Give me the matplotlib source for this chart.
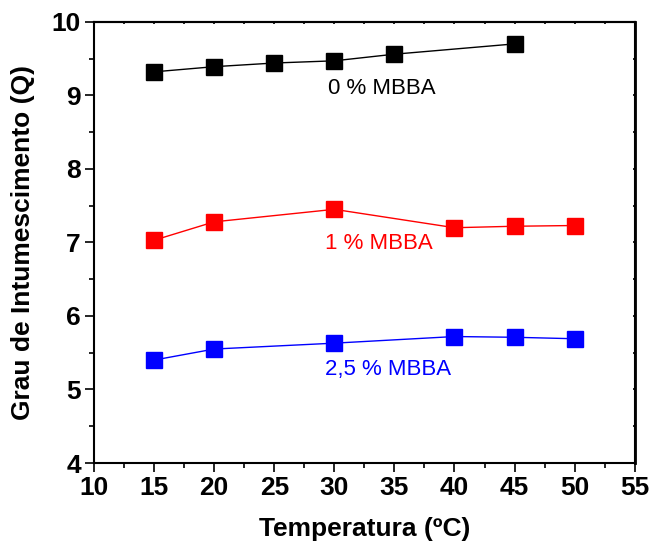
import matplotlib
matplotlib.use('Agg')
import matplotlib.pyplot as plt
from matplotlib.ticker import MultipleLocator

# Data
temp_0 = [15, 20, 25, 30, 35, 45]
q_0 = [9.32, 9.39, 9.44, 9.47, 9.56, 9.70]

temp_1 = [15, 20, 30, 40, 45, 50]
q_1 = [7.03, 7.28, 7.45, 7.20, 7.22, 7.23]

temp_25 = [15, 20, 30, 40, 45, 50]
q_25 = [5.40, 5.55, 5.63, 5.72, 5.71, 5.69]

x_ticks = [10, 15, 20, 25, 30, 35, 40, 45, 50, 55]
y_ticks = [4, 5, 6, 7, 8, 9, 10]

plt.rcParams['font.family'] = ['Liberation Sans', 'DejaVu Sans']

fig = plt.figure(figsize=(6.53, 5.46), dpi=100)
ax = fig.add_axes([0.144, 0.152, 0.828, 0.808])

ax.plot(temp_0, q_0, color='black', marker='s', markersize=11.5, linewidth=1)
ax.plot(temp_1, q_1, color='red', marker='s', markersize=11.5, linewidth=1)
ax.plot(temp_25, q_25, color='blue', marker='s', markersize=11.5, linewidth=1)

ax.text(29.5, 9.10, '0 % MBBA', color='black', fontsize=16, va='center')
ax.text(29.2, 6.99, '1 % MBBA', color='red', fontsize=16, va='center')
ax.text(29.2, 5.27, '2,5 % MBBA', color='blue', fontsize=16, va='center')

ax.set_xlim(10, 55)
ax.set_ylim(4, 10)
ax.set_xticks(x_ticks)
ax.set_yticks(y_ticks)
ax.xaxis.set_minor_locator(MultipleLocator(2.5))
ax.yaxis.set_minor_locator(MultipleLocator(0.5))

ax.tick_params(which='both', direction='out', top=False, right=False, width=1.2)
ax.tick_params(which='major', length=6.5, labelsize=19, pad=3)
ax.tick_params(which='minor', length=3.5)
for lbl in ax.get_xticklabels() + ax.get_yticklabels():
    lbl.set_fontweight('bold')

# tiny mirrored inward ticks on top and right
ax_top = ax.secondary_xaxis('top')
ax_top.set_xticks(x_ticks)
ax_top.xaxis.set_minor_locator(MultipleLocator(2.5))
ax_top.tick_params(which='both', direction='in', labeltop=False, width=1.2, length=1.5)
ax_right = ax.secondary_yaxis('right')
ax_right.set_yticks(y_ticks)
ax_right.yaxis.set_minor_locator(MultipleLocator(0.5))
ax_right.tick_params(which='both', direction='in', labelright=False, width=1.2, length=1.5)

for sp in ax.spines.values():
    sp.set_linewidth(1.5)
ax_top.spines['top'].set_linewidth(1.5)
ax_right.spines['right'].set_linewidth(2)

ax.set_xlabel('Temperatura (ºC)', fontsize=19, fontweight='bold', labelpad=12)
ax.set_ylabel('Grau de Intumescimento (Q)', fontsize=19, fontweight='bold', labelpad=12)

fig.savefig('out.png', dpi=100)
